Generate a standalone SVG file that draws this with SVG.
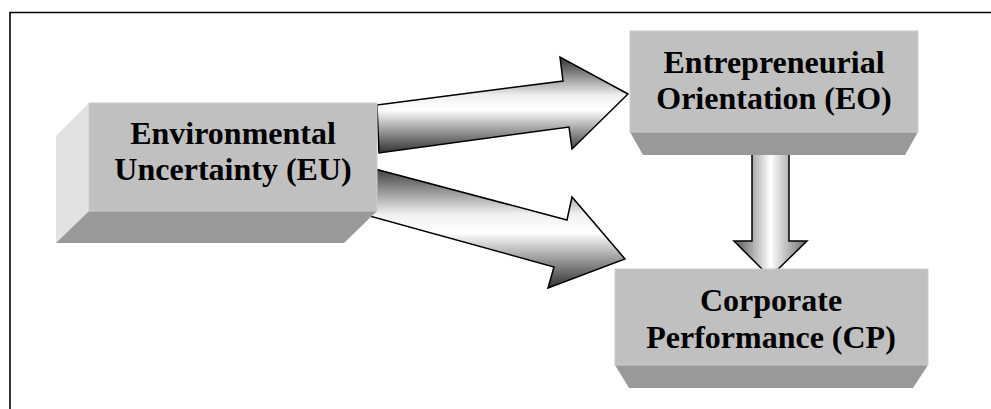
<svg xmlns="http://www.w3.org/2000/svg" width="991" height="409" viewBox="0 0 991 409">
  <defs>
    <linearGradient id="gArrowH" x1="0" y1="0" x2="0" y2="1">
      <stop offset="0" stop-color="#303030"/>
      <stop offset="0.4" stop-color="#f0f0f0"/>
      <stop offset="0.55" stop-color="#ffffff"/>
      <stop offset="1" stop-color="#303030"/>
    </linearGradient>
    <linearGradient id="gArrowV" x1="0" y1="0" x2="1" y2="0">
      <stop offset="0" stop-color="#555555"/>
      <stop offset="0.5" stop-color="#ffffff"/>
      <stop offset="1" stop-color="#6a6a6a"/>
    </linearGradient>
  </defs>
  <style>
    .frame { fill: none; stroke: #000; stroke-width: 1.6; }
    .arrow { stroke: #000; stroke-width: 1.5; stroke-linejoin: miter; }
    .front { fill: #c0c0c0; stroke: #cccccc; stroke-width: 1; }
    .side { fill: #e2e2e2; }
    .bottom { fill: #999999; }
    .label { font-weight: bold; font-size: 32px; fill: #000; text-anchor: middle; }
  </style>
  <rect width="991" height="409" fill="#ffffff"/>
  <path class="frame" d="M10 409 V12.5 H991"/>

  <g id="connectors">
    <polygon class="arrow" fill="url(#gArrowH)" points="377,105 563,81 560,57 628,94 572,149 569,127 379,153"/>
    <polygon class="arrow" fill="url(#gArrowH)" points="360,165 567,220 572,197 625,259 548,288 554,267 355,212"/>
    <polygon class="arrow" fill="url(#gArrowV)" points="752,150 789,150 789,241 807,241 770,277 734,241 752,241"/>
  </g>

  <g id="node-eu">
    <polygon class="side" points="89,103 56,136 56,243 89,211"/>
    <polygon class="bottom" points="89,211 377,211 344,243 56,243"/>
    <rect class="front" x="89" y="103" width="288" height="108"/>
    <text class="label" font-family="'Liberation Serif', 'Times New Roman', serif" x="233" y="144">Environmental</text>
    <text class="label" font-family="'Liberation Serif', 'Times New Roman', serif" x="233" y="180">Uncertainty (EU)</text>
  </g>

  <g id="node-eo">
    <polygon class="bottom" points="630,132 918,132 905,155 643,155"/>
    <rect class="front" x="630" y="31" width="288" height="101"/>
    <text class="label" font-family="'Liberation Serif', 'Times New Roman', serif" x="774" y="73">Entrepreneurial</text>
    <text class="label" font-family="'Liberation Serif', 'Times New Roman', serif" x="774" y="109">Orientation (EO)</text>
  </g>

  <g id="node-cp">
    <polygon class="bottom" points="615,365 928,365 913,388 629,388"/>
    <rect class="front" x="615" y="269" width="313" height="96"/>
    <text class="label" font-family="'Liberation Serif', 'Times New Roman', serif" x="771" y="311">Corporate</text>
    <text class="label" font-family="'Liberation Serif', 'Times New Roman', serif" x="771" y="348">Performance (CP)</text>
  </g>
</svg>
